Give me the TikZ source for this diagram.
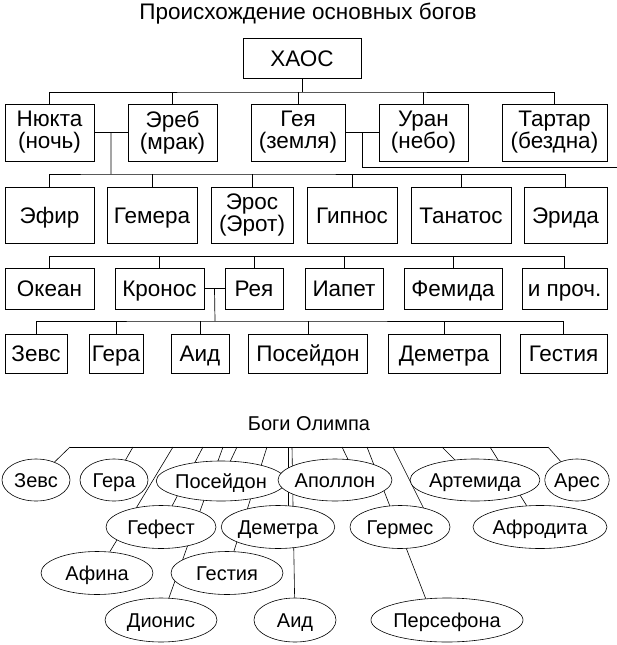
\documentclass[tikz,border=0pt]{standalone}
\usepackage{fontspec}
\setmainfont{Liberation Sans}
\usetikzlibrary{positioning,calc,backgrounds}
\usetikzlibrary{shapes.geometric}

\begin{document}
\begin{tikzpicture}[x=1pt,y=-1pt,line width=.7pt]
\tikzset{box/.style={draw,rectangle,inner sep=0pt,align=center,font=\fontsize{22.5}{22}\selectfont},
  oneline/.style={text height=21pt,text depth=5pt},
  god/.style={draw,ellipse,fill=white,inner sep=0pt,line width=.6pt,text height=18.3pt,text depth=4pt,font=\fontsize{20}{20}\selectfont},
  caption/.style={font=\fontsize{20}{20}\selectfont}}
\useasboundingbox (0,0) rectangle (617,645);
\node[caption,font=\fontsize{22.5}{22}\selectfont] (title) at (308,14) {Происхождение основных богов};
\begin{scope}[every node/.style={box}]
\node[oneline,minimum width=118,minimum height=40] (chaos) at (302,58) {ХАОС};
% first generation
\begin{scope}[minimum height=57]
\node[minimum width=89] (nyukta) at (49.5,132.5) {Нюкта\\(ночь)}; %%
\node[minimum width=89] (ereb) at (172.5,132.5) {Эреб\\(мрак)}; %%
\node[minimum width=94] (gea) at (298,132.5) {Гея\\(земля)}; %%
\node[minimum width=89] (uran) at (423.5,132.5) {Уран\\(небо)}; %%
\node[minimum width=105] (tartar) at (554.5,132.5) {Тартар\\(бездна)};
\end{scope}
\begin{scope}[minimum height=56]
\node[oneline,minimum width=89] (efir) at (49.5,215) {Эфир}; %%
\node[oneline,minimum width=90] (gemera) at (152,215) {Гемера}; %%
\node[minimum width=82] (eros) at (252,215) {Эрос\\(Эрот)}; %%
\node[oneline,minimum width=90] (gipnos) at (352,215) {Гипнос}; %%
\node[oneline,minimum width=100] (tanatos) at (461,215) {Танатос}; %%
\node[oneline,minimum width=83] (erida) at (565.5,215) {Эрида};
\end{scope}
% titans
\begin{scope}[minimum height=41]
\node[oneline,minimum width=89] (okean) at (49.5,288.5) {Океан}; %%
\node[oneline,minimum width=89] (kronos) at (159.5,288.5) {Кронос}; %%
\node[oneline,minimum width=58] (reya) at (254,288.5) {Рея}; %%
\node[oneline,minimum width=78] (iapet) at (344,288.5) {Иапет}; %%
\node[oneline,minimum width=98] (femida) at (453,288.5) {Фемида}; %%
\node[oneline,minimum width=85] (proch) at (564.5,288.5) {и проч.};
\end{scope}
\begin{scope}[minimum height=39]
\node[oneline,minimum width=62] (zevs) at (36,353.5) {Зевс}; %%
\node[oneline,minimum width=54] (gera) at (116,353.5) {Гера}; %%
\node[oneline,minimum width=58] (aid) at (200,353.5) {Аид}; %%
\node[oneline,minimum width=119] (poseidon) at (308,353.5) {Посейдон}; %%
\node[oneline,minimum width=112] (demetra) at (444,353.5) {Деметра}; %%
\node[oneline,minimum width=87] (gestia) at (563.5,353.5) {Гестия};
\end{scope}
\end{scope}
% tree lines
\coordinate (c0) at (302,92);
\draw (chaos.south) -- (c0);
\draw (nyukta.north) |- (c0) -| (tartar.north);
\foreach \n in {ereb,gea,uran} \draw (\n.north) -- (\n.north |- c0);
\draw (nyukta.east) -- (ereb.west);
\coordinate (ne) at ($(nyukta.east)!.5!(ereb.west)$);
\coordinate (c1) at (111,174);
\draw (ne) -- (c1);
\draw (efir.north) |- (c1) -| (erida.north);
\foreach \n in {gemera,eros,gipnos,tanatos} \draw (\n.north) -- (\n.north |- c1);
\draw (gea.east) -- (uran.west);
\coordinate (gu) at ($(gea.east)!.5!(uran.west)$);
\coordinate (cout) at (617,167);
\draw (gu) |- (cout);
\coordinate (c2) at (300,256.5);
\draw (okean.north) |- (c2) -| (proch.north);
\foreach \n in {kronos,reya,iapet,femida} \draw (\n.north) -- (\n.north |- c2);
\draw (kronos.east) -- (reya.west);
\coordinate (kr) at ($(kronos.east)!.5!(reya.west)$);
\coordinate (c3) at (215,321);
\draw (kr) -- (c3);
\draw (zevs.north) |- (c3) -| (gestia.north);
\foreach \n in {gera,aid,poseidon,demetra} \draw (\n.north) -- (\n.north |- c3);
% olympians
\node[caption] (otitle) at (309,424) {Боги Олимпа};
\begin{scope}[every node/.style={god}]
\node[minimum width=68,minimum height=42] (ozevs) at (36,480) {Зевс}; %%
\node[minimum width=68,minimum height=42] (ogera) at (114,480) {Гера}; %%
\node[minimum width=128,minimum height=40] (oposeidon) at (221,481) {Посейдон}; %%
\node[minimum width=80,minimum height=42] (oapollon) at (335,480) {Аполлон}; %%
\node[minimum width=124,minimum height=42] (oartemida) at (475,480) {Артемида}; %%
\node[minimum width=58,minimum height=42] (oares) at (577,480) {Арес}; %%
\node[minimum width=110,minimum height=43] (ogefest) at (161,527) {Гефест}; %%
\node[minimum width=96,minimum height=43] (odemetra) at (278,527) {Деметра}; %%
\node[minimum width=100,minimum height=43] (ogermes) at (400,527) {Гермес}; %%
\node[minimum width=120,minimum height=43] (oafrodita) at (540,527) {Афродита}; %%
\node[minimum width=112,minimum height=43] (oafina) at (97,573) {Афина}; %%
\node[minimum width=112,minimum height=43] (ogestia) at (227,573) {Гестия}; %%
\node[minimum width=112,minimum height=44] (odionis) at (161,620) {Дионис}; %%
\node[minimum width=82,minimum height=44] (oaid) at (295,620) {Аид}; %%
\node[minimum width=142,minimum height=44] (opersefona) at (447,620) {Персефона};
\end{scope}
\foreach \x/\n in {70/zevs,133/gera,173/afina,203/gefest,223/dionis,237/poseidon,267/gestia,288/demetra,292/aid,342/apollon,367/persefona,393/germes,442/artemida,490/afrodita,548/ares}
  \coordinate (b\n) at (\x,447);
\draw (bzevs) -- (bares);
\begin{scope}[on background layer]
\foreach \n in {zevs,gera,afina,gefest,dionis,poseidon,gestia,aid,artemida,afrodita,ares}
  \draw[line width=.6pt] (b\n) -- (o\n);
\draw[line width=.6pt] (bdemetra) -- (bdemetra |- odemetra); %%
\draw[line width=.6pt] (bapollon) -- ($(oapollon)+(23,0)$); %%
\draw[line width=.6pt] (bpersefona) -- ($(opersefona)+(-13,0)$); %%
\draw[line width=.6pt] (bgermes) -- ($(ogermes)+(33,0)$);
\end{scope}
\end{tikzpicture}
\end{document}
